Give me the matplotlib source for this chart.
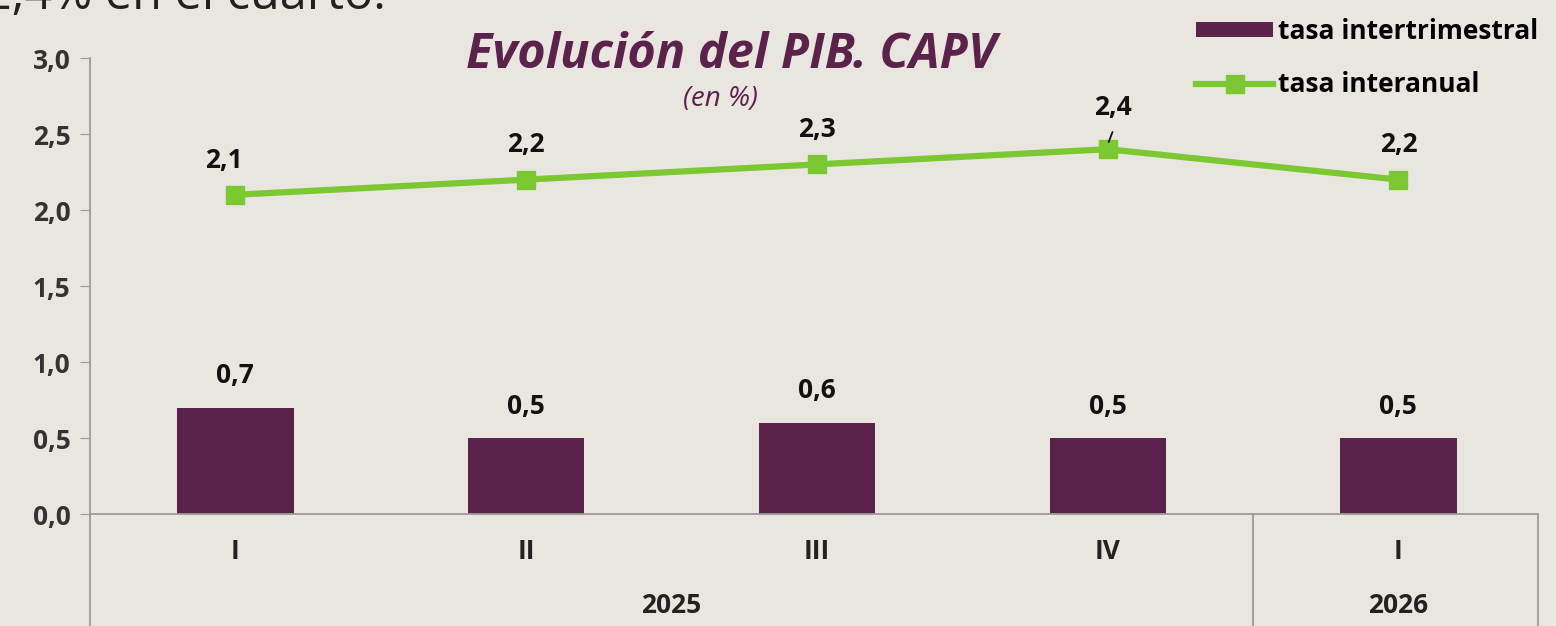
import matplotlib.pyplot as plt
import matplotlib.transforms as mtransforms

quarters = ['I', 'II', 'III', 'IV', 'I']
years = ['2025', '2026']
tasa_intertrimestral = [0.7, 0.5, 0.6, 0.5, 0.5]
tasa_interanual = [2.1, 2.2, 2.3, 2.4, 2.2]
yticks = [0.0, 0.5, 1.0, 1.5, 2.0, 2.5, 3.0]

bg = '#e9e6e0'
purple = '#5b224b'
green = '#7cc832'
grey = '#9a9a9a'
font = 'Open Sans'

fig = plt.figure(figsize=(15.56, 6.26), dpi=100, facecolor=bg)
ax = fig.add_axes([90 / 1556, 112 / 626, 1448 / 1556, 456 / 626])
ax.set_facecolor(bg)

x = list(range(len(quarters)))
bars = ax.bar(x, tasa_intertrimestral, width=0.4, color=purple, zorder=2,
              label='tasa intertrimestral')
line, = ax.plot(x, tasa_interanual, color=green, lw=4.5, marker='s', ms=13,
                zorder=3, label='tasa interanual')

lab = dict(fontsize=19, fontweight='bold', family=font, color='#111')
for xi, v in zip(x, tasa_intertrimestral):
    ax.annotate(f'{v:.1f}'.replace('.', ','), (xi, v), xytext=(0, 23),
                textcoords='offset points', ha='center', va='center', **lab)
for i, (xi, v) in enumerate(zip(x, tasa_interanual)):
    off = 30 if i == 3 else 25
    dx = 4 if i == 3 else -8 if i == 0 else 0
    ax.annotate(f'{v:.1f}'.replace('.', ','), (xi, v), xytext=(dx, off),
                textcoords='offset points', ha='center', va='center', **lab)
# leader line for IV
ax.annotate('', xy=(3, tasa_interanual[3] + 0.03), xytext=(3.02, tasa_interanual[3] + 0.13),
            arrowprops=dict(arrowstyle='-', color='#111', lw=1.3))

ax.set_xlim(-0.5, 4.48)
ax.set_ylim(0, 3)
ax.set_yticks(yticks)
ax.set_yticklabels([f'{t:.1f}'.replace('.', ',') for t in yticks],
                   fontsize=19, fontweight='bold', family=font, color='#333')
ax.set_xticks([])
ax.tick_params(axis='y', length=7, color=grey, pad=7)
for s in ['top', 'right']:
    ax.spines[s].set_visible(False)
for s in ['left', 'bottom']:
    ax.spines[s].set_color(grey)
    ax.spines[s].set_linewidth(1.3)

trans = mtransforms.blended_transform_factory(ax.transData, ax.transAxes)
for xs in [-0.5, 3.5, 4.48]:
    ax.plot([xs, xs], [0, -0.25], color=grey, lw=1.3, transform=trans, clip_on=False)
cat = dict(fontsize=19, fontweight='bold', family=font, color='#222')
for xi, q in zip(x, quarters):
    ax.text(xi, -0.083, q, transform=trans, ha='center', va='center', **cat)
ax.text(1.5, -0.2, years[0], transform=trans, ha='center', va='center', **cat)
ax.text(4, -0.2, years[1], transform=trans, ha='center', va='center', **cat)

fig.text(731 / 1556, 1 - 56 / 626, 'Evolución del PIB. CAPV', ha='center', va='center',
         fontsize=35, fontweight='bold', style='italic', family=font, color=purple)
fig.text(720 / 1556, 1 - 99 / 626, '(en %)', ha='center', va='center',
         fontsize=20, style='italic', family=font, color=purple)
fig.text(-0.01, 1 - 9 / 626, '2,4% en el cuarto.', ha='left', va='baseline',
         fontsize=35, family=font, color='#222')

leg = ax.legend([bars, line], ['tasa intertrimestral', 'tasa interanual'],
                loc='upper right', bbox_to_anchor=(1562 / 1556, 1 + 6 / 626),
                bbox_transform=fig.transFigure, frameon=False,
                prop={'family': font, 'weight': 'bold', 'size': 19},
                handlelength=2.9, handleheight=0.5, handletextpad=0.2,
                labelspacing=1.0)

fig.savefig('out.png', dpi=100, facecolor=bg)
